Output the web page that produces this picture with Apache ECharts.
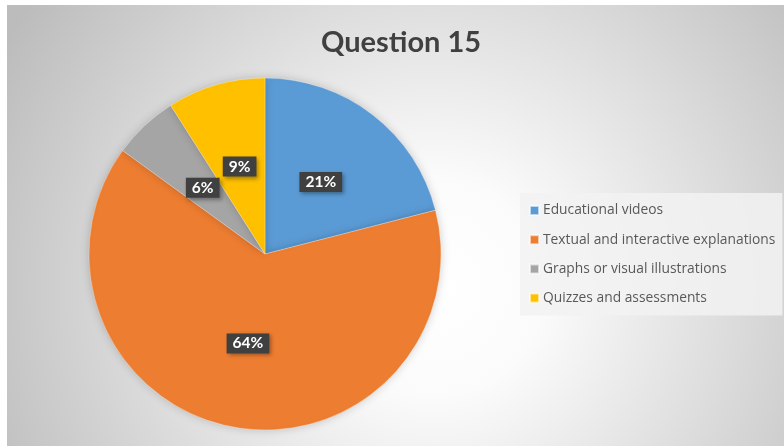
<!DOCTYPE html>
<html>
<head>
<meta charset="utf-8">
<script src="https://cdn.jsdelivr.net/npm/echarts@6/dist/echarts.min.js"></script>
<style>
  html, body { margin: 0; padding: 0; background: #ffffff; }
  #chart { position: absolute; left: 7px; top: 5px; width: 777px; height: 441px; }
</style>
</head>
<body>
<div id="chart"></div>
<script>
// Survey answers for question 15 (share of respondents, %)
const categories = [
  'Educational videos',
  'Textual and interactive explanations',
  'Graphs or visual illustrations',
  'Quizzes and assessments'
];
const shares = [21, 64, 6, 9];
const sliceColors = ['#5b9bd5', '#ed7d31', '#a5a5a5', '#ffc000'];
const chartTitle = 'Question 15';

const chart = echarts.init(document.getElementById('chart'), null, { renderer: 'canvas' });

chart.setOption({
  backgroundColor: new echarts.graphic.RadialGradient(0.55, 0.64, 1.12, [
    { offset: 0, color: '#ffffff' },
    { offset: 0.22, color: '#fbfbfb' },
    { offset: 1, color: '#bcbcbc' }
  ]),
  title: {
    text: chartTitle,
    left: 389,
    top: 18,
    textAlign: 'center',
    textStyle: {
      fontFamily: 'Lato',
      fontSize: 29,
      fontWeight: 'bold',
      color: '#404040'
    }
  },
  legend: {
    orient: 'vertical',
    left: 513,
    top: 188,
    padding: [10, 7, 10, 9],
    backgroundColor: 'rgba(242,242,242,0.85)',
    itemWidth: 9,
    itemHeight: 9,
    itemGap: 14.2,
    icon: 'rect',
    data: categories,
    textStyle: {
      fontFamily: 'Open Sans',
      fontSize: 13.8,
      lineHeight: 15,
      color: '#595959',
      padding: [0, 0, 0, -1]
    }
  },
  series: [{
    type: 'pie',
    center: [258, 249],
    radius: 176,
    startAngle: 90,
    clockwise: true,
    silent: true,
    data: categories.map((name, i) => ({
      name,
      value: shares[i],
      itemStyle: { color: sliceColors[i] }
    })),
    itemStyle: {
      borderColor: 'rgba(255,255,255,0.6)',
      borderWidth: 0.5,
      shadowBlur: 10,
      shadowColor: 'rgba(0,0,0,0.18)'
    },
    label: {
      show: true,
      position: 'inside',
      formatter: p => p.value + '%',
      fontFamily: 'Lato',
      fontSize: 15.5,
      fontWeight: 'bold',
      color: '#ffffff',
      backgroundColor: '#404040',
      padding: [2, 6, 2, 6],
      lineHeight: 16,
      shadowBlur: 4,
      shadowOffsetX: 2,
      shadowOffsetY: 2,
      shadowColor: 'rgba(0,0,0,0.35)'
    },
    labelLine: { show: false },
    emphasis: { disabled: true }
  }]
});
</script>
</body>
</html>
